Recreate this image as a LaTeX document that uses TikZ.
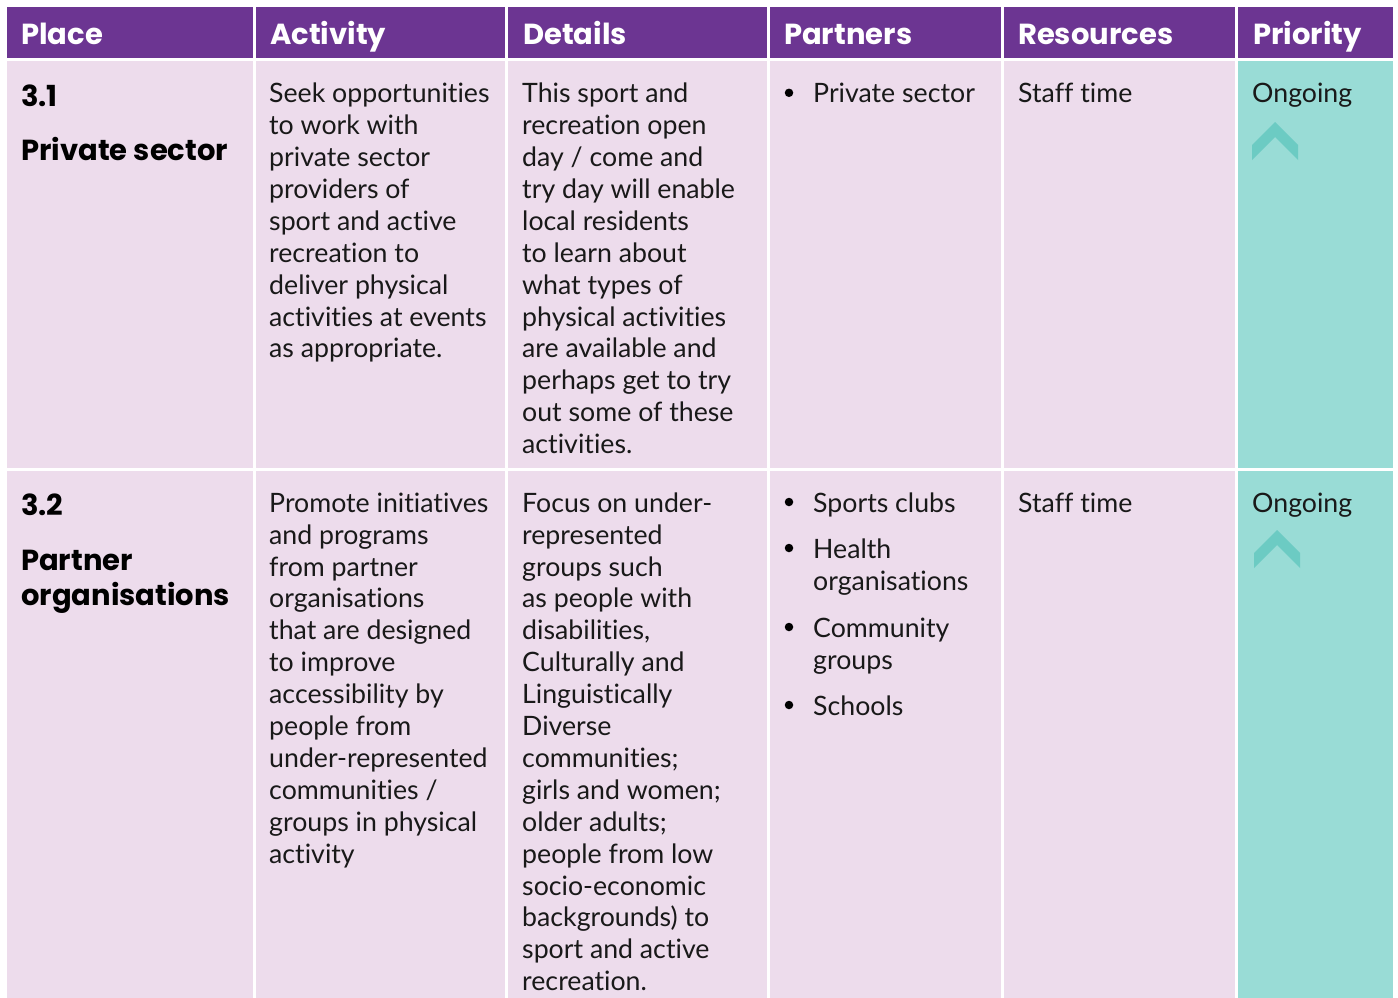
\documentclass[tikz,border=0pt]{standalone}
\usepackage{fontspec}
\setmainfont{Lato}[Ligatures=NoCommon]
\newfontfamily\heavyfamily{Poppins}
\definecolor{hdr}{RGB}{108,53,146}
\definecolor{cellpink}{RGB}{237,220,236}
\definecolor{cellteal}{RGB}{153,220,214}
\definecolor{chev}{RGB}{108,203,195}
\newcommand\bodyfnt{\fontsize{26.7}{31.9}\selectfont}
\newcommand\boldfnt{\heavyfamily\fontsize{29}{35}\selectfont\bfseries}
\newcommand\firstln{\rule{0pt}{30pt}}
\begin{document}
\begin{tikzpicture}[x=1pt,y=-1pt,
  hdrtext/.style={anchor=base west, inner sep=0pt, text=white, font=\boldfnt},
  placetext/.style={anchor=base west, inner sep=0pt, text=black, font=\boldfnt},
  bodytext/.style={anchor=north west, inner sep=0pt, align=left, text=black!90, font=\bodyfnt},
  bul/.style={circle, fill=black, inner sep=0pt, minimum size=8.5pt},
  chevron/.style={fill=chev, draw=none}]
\useasboundingbox[fill=white] (0,0) rectangle (1398,998);
% header cells
\fill[hdr] (7,7) rectangle (252.5,58);
\fill[hdr] (255.5,7) rectangle (505,58);
\fill[hdr] (508,7) rectangle (766.5,58);
\fill[hdr] (769.5,7) rectangle (1000.5,58);
\fill[hdr] (1003.5,7) rectangle (1235,58);
\fill[hdr] (1238,7) rectangle (1392.5,58);
% row 1 cells
\fill[cellpink] (7,61) rectangle (252.5,467.5);
\fill[cellpink] (255.5,61) rectangle (505,467.5);
\fill[cellpink] (508,61) rectangle (766.5,467.5);
\fill[cellpink] (769.5,61) rectangle (1000.5,467.5);
\fill[cellpink] (1003.5,61) rectangle (1235,467.5);
\fill[cellteal] (1238,61) rectangle (1392.5,467.5);
% row 2 cells
\fill[cellpink] (7,470.5) rectangle (252.5,998);
\fill[cellpink] (255.5,470.5) rectangle (505,998);
\fill[cellpink] (508,470.5) rectangle (766.5,998);
\fill[cellpink] (769.5,470.5) rectangle (1000.5,998);
\fill[cellpink] (1003.5,470.5) rectangle (1235,998);
\fill[cellteal] (1238,470.5) rectangle (1392.5,998);
% header texts
\node[hdrtext] (hplace) at (21,45) {Place};
\node[hdrtext] (hact) at (270,45) {Activity};
\node[hdrtext] (hdet) at (523,45) {Details};
\node[hdrtext] (hpart) at (784,45) {Partners};
\node[hdrtext] (hres) at (1018,45) {Resources};
\node[hdrtext] (hprio) at (1253,45) {Priority};
% row 1
\node[placetext] (pnum1) at (21,106.7) {3.1};
\node[placetext] (pname1) at (21,160) {Private sector};
\node[bodytext] (act1) at (269,72.5) {\firstln Seek opportunities\\to work with\\private sector\\providers of\\sport and active\\recreation to\\deliver physical\\activities at events\\as appropriate.};
\node[bodytext] (det1) at (522,72.5) {\firstln This sport and\\recreation open\\day / come and\\try day will enable\\local residents\\to learn about\\what types of\\physical activities\\are available and\\perhaps get to try\\out some of these\\activities.};
\node[bul] (b1) at (789,92.8) {};
\node[bodytext] (part1) at (813,72.5) {\firstln Private sector};
\node[bodytext] (res1) at (1018,72.5) {\firstln Staff time};
\node[bodytext] (prio1) at (1252,72.5) {\firstln Ongoing};
\fill[chevron] (1252,145) -- (1275,122) -- (1298,145) -- (1298,160) -- (1275,137) -- (1252,160) -- cycle;
% row 2
\node[placetext] (pnum2) at (21,515) {3.2};
\node[placetext] (pname2a) at (21,570) {Partner};
\node[placetext] (pname2b) at (21,605) {organisations};
\node[bodytext] (act2) at (269,482) {\firstln Promote initiatives\\and programs\\from partner\\organisations\\that are designed\\to improve\\accessibility by\\people from\\under-represented\\communities /\\groups in physical\\activity};
\node[bodytext] (det2) at (522,482) {\firstln Focus on under-\\represented\\groups such\\as people with\\disabilities,\\Culturally and\\Linguistically\\Diverse\\communities;\\girls and women;\\older adults;\\people from low\\socio-economic\\backgrounds) to\\sport and active\\recreation.};
\node[bul] (b2) at (789,502) {};
\node[bodytext] (part2a) at (813,482) {\firstln Sports clubs};
\node[bul] (b3) at (789,548) {};
\node[bodytext] (part2b) at (813,528) {\firstln Health\\organisations};
\node[bul] (b4) at (789,627) {};
\node[bodytext] (part2c) at (813,607) {\firstln Community\\groups};
\node[bul] (b5) at (789,705) {};
\node[bodytext] (part2d) at (813,685) {\firstln Schools};
\node[bodytext] (res2) at (1018,482) {\firstln Staff time};
\node[bodytext] (prio2) at (1252,482) {\firstln Ongoing};
\fill[chevron] (1254,553) -- (1277,530) -- (1300,553) -- (1300,568) -- (1277,545) -- (1254,568) -- cycle;
\end{tikzpicture}
\end{document}
